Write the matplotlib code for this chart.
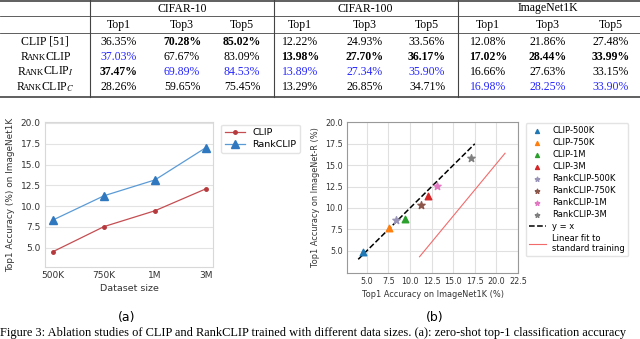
import matplotlib.pyplot as plt

plt.rcParams['mathtext.fontset'] = 'stix'

# ---- table data ----
datasets = ["CIFAR-10", "CIFAR-100", "ImageNet1K"]
metrics = ["Top1", "Top3", "Top5"]
row_names = ["CLIP [51]", "RankCLIP", "RankCLIP_I", "RankCLIP_C"]
table_vals = [
    ["36.35%", "70.28%", "85.02%", "12.22%", "24.93%", "33.56%", "12.08%", "21.86%", "27.48%"],
    ["37.03%", "67.67%", "83.09%", "13.98%", "27.70%", "36.17%", "17.02%", "28.44%", "33.99%"],
    ["37.47%", "69.89%", "84.53%", "13.89%", "27.34%", "35.90%", "16.66%", "27.63%", "33.15%"],
    ["28.26%", "59.65%", "75.45%", "13.29%", "26.85%", "34.71%", "16.98%", "28.25%", "33.90%"],
]
# b = best (bold), u = second best (blue)
table_marks = [
    ["", "b", "b", "", "", "", "", "", ""],
    ["u", "", "", "b", "b", "b", "b", "b", "b"],
    ["b", "u", "u", "u", "u", "u", "", "", ""],
    ["", "", "", "", "", "", "u", "u", "u"],
]

# ---- plot (a) data ----
sizes = ["500K", "750K", "1M", "3M"]
clip_in1k = [4.55, 7.55, 9.45, 12.08]
rank_in1k = [8.35, 11.25, 13.15, 17.02]

# ---- plot (b) data ----
clip_inr = [4.8, 7.7, 8.7, 11.4]
rank_inr = [8.6, 10.3, 12.6, 15.8]
clip_colors = ["#1f77b4", "#ff7f0e", "#2ca02c", "#d62728"]
rank_colors = ["#9a94b8", "#8c564b", "#e377c2", "#7f7f7f"]
identity_x = [4.0, 17.5]
fit_x = [11.1, 21.0]
fit_y = [4.3, 16.4]

W, H = 640, 339
fig = plt.figure(figsize=(6.4, 3.39), dpi=100)

# ---------------- table (pixel coordinates) ----------------
tab = fig.add_axes([0, 0, 1, 1])
tab.set_xlim(0, W)
tab.set_ylim(H, 0)
tab.axis('off')

serif = 'Liberation Serif'
fs = 8.5
tab.plot([0, W], [0.6, 0.6], color='#444', lw=1.2)
tab.plot([0, W], [16, 16], color='#444', lw=0.6)
tab.plot([0, W], [33, 33], color='#444', lw=0.6)
tab.plot([0, W], [97, 97], color='#444', lw=1.2)
for vx in [90, 274, 458]:
    tab.plot([vx, vx], [0, 97], color='#444', lw=0.8)

head_x = [182, 365, 548]
col_x = [119, 182, 242, 300, 365, 427, 488, 548, 611]
row_y = [42, 57, 72, 87]

for hx, name in zip(head_x, datasets):
    tab.text(hx, 8.5, name, ha='center', va='center', family=serif, size=fs)
for i, cx in enumerate(col_x):
    tab.text(cx, 25, metrics[i % 3], ha='center', va='center', family=serif, size=fs)

renderer = fig.canvas.get_renderer()


def rank_label(sub, x, y):
    # small caps "RankCLIP", pieces placed one after another on the baseline
    pieces = [("R", fs), ("ANK", fs * 0.75),
              ("CLIP" if sub is None else "CLIP$_{%s}$" % sub, fs)]
    arts = [tab.text(0, y, t, size=s, family=serif, ha='left', va='baseline')
            for t, s in pieces]
    widths = [a.get_window_extent(renderer).width - 1.3 for a in arts]
    cur = x - sum(widths) / 2
    for a, w in zip(arts, widths):
        a.set_x(cur)
        cur += w


for r, (name, ry) in enumerate(zip(row_names, row_y)):
    if name.startswith("RankCLIP"):
        sub = name.split("_")[1] if "_" in name else None
        rank_label(sub, 45, ry + 3)
    else:
        tab.text(45, ry, name, ha='center', va='center', family=serif, size=fs)
    for c, cx in enumerate(col_x):
        m = table_marks[r][c]
        tab.text(cx, ry, table_vals[r][c], ha='center', va='center', family=serif,
                 size=fs, weight='bold' if m == 'b' else 'normal',
                 color='#2626ff' if m == 'u' else 'black')

# ---------------- plot (a) ----------------
ax1 = fig.add_axes([45 / W, 1 - 267 / H, 168 / W, 145 / H])
xs = range(len(sizes))
ax1.plot(xs, clip_in1k, color='#c44e52', lw=0.9, marker='o', ms=2.5,
         mfc='#b5393d', mec='#b5393d', label='CLIP')
ax1.plot(xs, rank_in1k, color='#5b9bd5', lw=0.9, marker='^', ms=6,
         mfc='#2f78c0', mec='#2f78c0', label='RankCLIP')
ax1.set_xticks(list(xs))
ax1.set_xticklabels(sizes)
ax1.set_xlim(-0.16, 3.14)
ax1.set_ylim(2.7, 20.1)
ax1.set_yticks([5.0, 7.5, 10.0, 12.5, 15.0, 17.5, 20.0])
ax1.yaxis.grid(True, color='#e3e3e3', lw=0.8)
ax1.set_axisbelow(True)
for s in ax1.spines.values():
    s.set_color('#d8d8d8')
    s.set_linewidth(0.8)
ax1.tick_params(length=0, labelsize=6.5, colors='#333', pad=3)
ax1.set_xlabel("Dataset size", fontsize=6.8, color='#333', labelpad=3)
ax1.set_ylabel("Top1 Accuracy (%) on ImageNet1K", fontsize=6.4, color='#333', labelpad=4)
ax1.legend(loc='upper left', bbox_to_anchor=(1.02, 1.015), fontsize=6.8,
           frameon=True, edgecolor='#dddddd', fancybox=True, borderpad=0.4,
           handlelength=2.1, labelspacing=0.3)

# ---------------- plot (b) ----------------
ax2 = fig.add_axes([347 / W, 1 - 273 / H, 171 / W, 151 / H])
for i, sz in enumerate(sizes):
    ax2.scatter(clip_in1k[i], clip_inr[i], marker='^', s=22, color=clip_colors[i],
                label='CLIP-' + sz, zorder=3)
for i, sz in enumerate(sizes):
    ax2.scatter(rank_in1k[i], rank_inr[i], marker='*', s=30, color=rank_colors[i],
                label='RankCLIP-' + sz, zorder=3)
ax2.plot(identity_x, identity_x, 'k--', lw=1.1, label='y = x', zorder=2)
ax2.plot(fit_x, fit_y, color='#f26b6b', lw=0.8, label='Linear fit to\nstandard training')
ax2.set_xlim(2.7, 22.5)
ax2.set_ylim(2.4, 20.05)
ax2.set_xticks([5.0, 7.5, 10.0, 12.5, 15.0, 17.5, 20.0, 22.5])
ax2.set_yticks([5.0, 7.5, 10.0, 12.5, 15.0, 17.5, 20.0])
ax2.grid(True, color='#e0e0e0', lw=0.8)
ax2.set_axisbelow(True)
for s in ax2.spines.values():
    s.set_color('#999999')
    s.set_linewidth(0.8)
ax2.tick_params(length=0, labelsize=5.8, colors='#333', pad=3)
ax2.set_xlabel("Top1 Accuracy on ImageNet1K (%)", fontsize=5.9, color='#333', labelpad=3)
ax2.set_ylabel("Top1 Accuracy on ImageNet-R (%)", fontsize=5.9, color='#333', labelpad=4)
ax2.legend(loc='upper left', bbox_to_anchor=(1.02, 1.02), fontsize=6,
           frameon=True, edgecolor='#dddddd', fancybox=True, borderpad=0.4,
           handlelength=2.0, labelspacing=0.35, scatterpoints=1, markerscale=0.6)

# ---------------- sub-captions and figure caption ----------------
tab.text(127, 318, "(a)", ha='center', va='center', fontsize=9)
tab.text(435, 318, "(b)", ha='center', va='center', fontsize=9)
tab.text(0, 339, "Figure 3: Ablation studies of CLIP and RankCLIP trained with different "
         "data sizes. (a): zero-shot top-1 classification accuracy",
         ha='left', va='bottom', family=serif, size=8.9)

fig.savefig("out.png", dpi=100)
